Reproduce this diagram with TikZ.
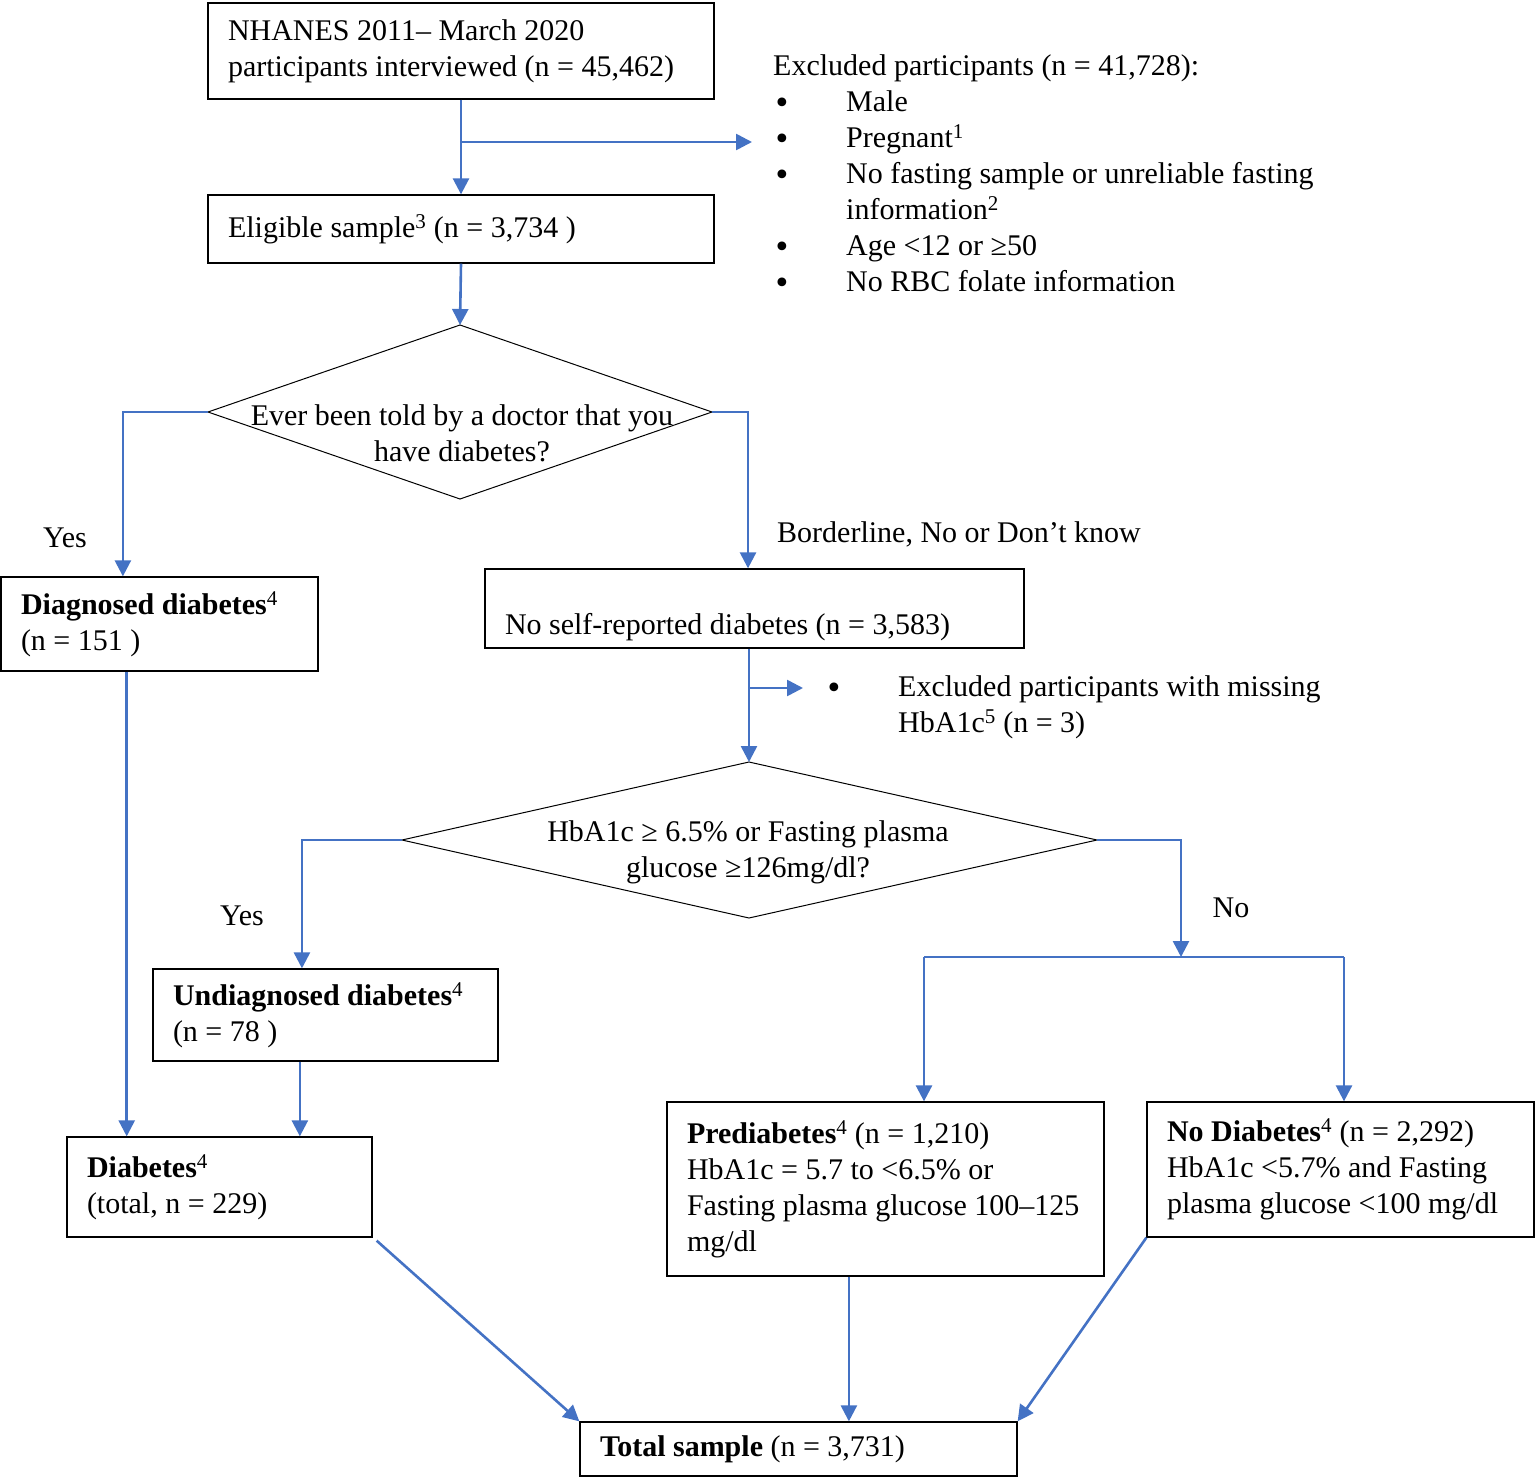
\documentclass[tikz,border=0pt]{standalone}
\usepackage{fontspec}
\setmainfont{Liberation Serif}
\newfontfamily\fcsym{DejaVu Sans}
\usepackage{tikz}
\usetikzlibrary{arrows.meta}
\usetikzlibrary{calc}
\definecolor{flowblue}{HTML}{4472C4}
\newcommand{\fcbul}{\makebox[73pt][l]{\raisebox{-2pt}{\fcsym •}}}
\newcommand{\fcind}{\hspace*{73pt}}

\begin{document}
\begin{tikzpicture}[x=1pt, y=-1pt,
    font=\fontsize{30}{36}\selectfont,
    fcbox/.style={draw, line width=1.3pt, inner xsep=20pt, inner ysep=0pt, align=flush left},
    fcarr/.style={draw=flowblue, line width=2.6pt, -{Triangle[length=16pt,width=16pt]}},
    fcline/.style={draw=flowblue, line width=2.6pt},
    fctext/.style={inner sep=0pt, align=flush left}]

    \useasboundingbox (0,0) rectangle (1536,1477);

    % boxes
    \node [fcbox, text width=466pt, minimum height=96pt] (nhanes) at (461,51)
      {NHANES 2011– March 2020\\participants interviewed (n = 45,462)};
    \node [fcbox, text width=466pt, minimum height=68pt] (eligible) at (461,229)
      {Eligible sample\textsuperscript{3} (n = 3,734 )};
    \node [fcbox, text width=277pt, minimum height=94pt] (diag) at (159.5,624)
      {\textbf{Diagnosed diabetes}\textsuperscript{4}\\(n = 151 )};
    \node [fcbox, text width=499pt, minimum height=79pt] (noself) at (754.5,608.5)
      {\mbox{}\\[22pt]No self-reported diabetes (n = 3,583)};
    \node [fcbox, text width=305pt, minimum height=92pt] (undiag) at (325.5,1015)
      {\textbf{Undiagnosed diabetes}\textsuperscript{4}\\(n = 78 )};
    \node [fcbox, text width=265pt, minimum height=100pt] (diabetes) at (219.5,1187)
      {\textbf{Diabetes}\textsuperscript{4}\\(total, n = 229)};
    \node [fcbox, text width=397pt, minimum height=174pt] (prediab) at (885.5,1189)
      {\textbf{Prediabetes}\textsuperscript{4} (n = 1,210)\\HbA1c = 5.7 to <6.5\% or\\Fasting plasma glucose 100–125\\mg/dl};
    \node [fcbox, text width=347pt, minimum height=135pt] (nodiab) at (1340.5,1169.5)
      {\textbf{No Diabetes}\textsuperscript{4} (n = 2,292)\\HbA1c <5.7\% and Fasting\\plasma glucose <100 mg/dl};
    \node [fcbox, text width=397pt, minimum height=54pt] (total) at (798.5,1449)
      {\textbf{Total sample} (n = 3,731)};

    % diamonds
    \coordinate (d1t) at (460,325);
    \coordinate (d1r) at (712,412);
    \coordinate (d1b) at (460,499);
    \coordinate (d1l) at (208,412);
    \draw [line width=1pt] (d1t) -- (d1r) -- (d1b) -- (d1l) -- cycle;
    \node [fctext, align=flush center] (q1) at (462,433)
      {Ever been told by a doctor that you\\have diabetes?};

    \coordinate (d2t) at (749,762);
    \coordinate (d2r) at (1097,840);
    \coordinate (d2b) at (749,918);
    \coordinate (d2l) at (402,840);
    \draw [line width=1pt] (d2t) -- (d2r) -- (d2b) -- (d2l) -- cycle;
    \node [fctext, align=flush center] (q2) at (748,852)
      {HbA1c ≥ 6.5\% or Fasting plasma\\glucose ≥126mg/dl?};

    % exclusions and labels
    \node [fctext, anchor=west] (excl) at (773,174)
      {Excluded participants (n = 41,728):\\
       \fcbul Male\\
       \fcbul Pregnant\textsuperscript{1}\\
       \fcbul No fasting sample or unreliable fasting\\
       \fcind information\textsuperscript{2}\\
       \fcbul Age <12 or ≥50\\
       \fcbul No RBC folate information};
    \node [fctext, anchor=west] (miss) at (825,707)
      {\fcbul Excluded participants with missing\\
       \fcind HbA1c\textsuperscript{5} (n = 3)};
    \node [fctext] (yes1) at (65,538) {Yes};
    \node [fctext, anchor=west] (bord) at (777,534) {Borderline, No or Don’t know};
    \node [fctext] (yes2) at (242,916) {Yes};
    \node [fctext] (no1) at (1231,908) {No};

    % connectors
    \coordinate (b1) at (461,142);
    \coordinate (e1) at (752,142);
    \coordinate (b2) at (749,688);
    \coordinate (e2) at (803,688);
    \coordinate (j1) at (1181,957);
    \coordinate (jl) at (924,957);
    \coordinate (jr) at (1344,957);

    \draw [fcarr] (nhanes.south) -- (eligible.north);
    \draw [fcarr] (b1) -- (e1);
    \draw [fcarr] (eligible.south) -- (d1t);
    \draw [fcarr] (d1l) -| ($(diag.north west)!0.385!(diag.north east)$);
    \draw [fcarr] (d1r) -| ($(noself.north west)!0.488!(noself.north east)$);
    \draw [fcarr] (noself.south -| d2t) -- (d2t);
    \draw [fcarr] (b2) -- (e2);
    \draw [fcarr] (d2l) -| ($(undiag.north west)!0.432!(undiag.north east)$);
    \draw [fcarr] (d2r) -| (j1);
    \draw [fcline] (jl) -- (jr);
    \draw [fcarr] (jl) -- (prediab.north -| jl);
    \draw [fcarr] (jr) -- (nodiab.north -| jr);
    \draw [fcarr] ($(diag.south west)!0.397!(diag.south east)$) coordinate (c1)
      -- (c1 |- diabetes.north);
    \draw [fcarr] ($(undiag.south west)!0.426!(undiag.south east)$) coordinate (c2)
      -- (c2 |- diabetes.north);
    \draw [fcarr] ($(diabetes.south east)+(4,3)$) -- (total.north west);
    \draw [fcarr] ($(prediab.south west)!0.4165!(prediab.south east)$) coordinate (c3)
      -- (c3 |- total.north);
    \draw [fcarr] (nodiab.south west) -- (total.north east);

\end{tikzpicture}
\end{document}
